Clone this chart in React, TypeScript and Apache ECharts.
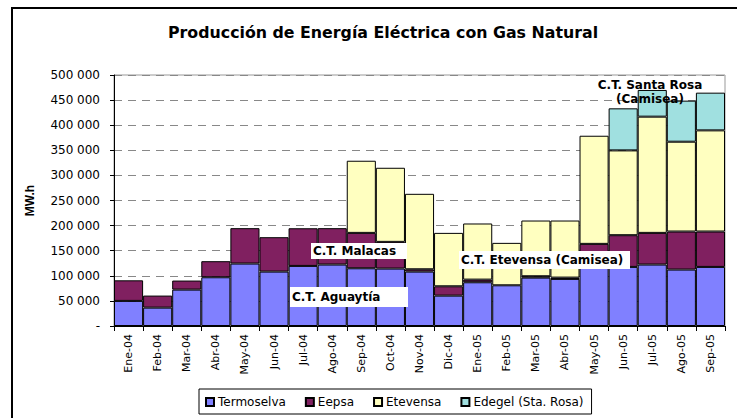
import React, { useEffect, useRef } from "react";
import * as echarts from "echarts";

const categories = [
  "Ene-04", "Feb-04", "Mar-04", "Abr-04", "May-04", "Jun-04", "Jul-04", "Ago-04", "Sep-04",
  "Oct-04", "Nov-04", "Dic-04", "Ene-05", "Feb-05", "Mar-05", "Abr-05", "May-05", "Jun-05",
  "Jul-05", "Ago-05", "Sep-05",
];
const termoselva = [50000, 36600, 72500, 97100, 124400, 108400, 119700, 122400, 115000, 114400, 108400, 60500, 87100, 81100, 96400, 93800, 117000, 117700, 122400, 112400, 117700];
const eepsa = [41000, 24000, 18000, 32000, 70500, 68500, 75000, 72500, 70500, 53200, 4600, 18600, 5300, null, 2700, 2600, 46600, 63200, 63100, 75800, 70500];
const etevensa = [null, null, null, null, null, null, null, null, 143700, 147600, 150300, 106400, 111800, 84500, 111000, 113700, 215400, 168900, 231500, 178900, 201500];
const edegel = [null, null, null, null, null, null, null, null, null, null, null, null, null, null, null, null, null, 83800, 53200, 81800, 75100];
const yTicks = [0, 50000, 100000, 150000, 200000, 250000, 300000, 350000, 400000, 450000, 500000];

const fmt = (v: number) =>
  v === 0 ? "-" : String(v).replace(/\B(?=(\d{3})+(?!\d))/g, " ");

export default function App() {
  const ref = useRef<HTMLDivElement>(null);
  useEffect(() => {
    if (!ref.current) return;
    const chart = echarts.init(ref.current, undefined, { renderer: "svg" });
    const font = "'DejaVu Sans', Verdana, sans-serif";
    const mk = (name: string, data: any[], color: string) => ({
      name,
      type: "bar",
      stack: "total",
      data,
      barCategoryGap: "0%",
      itemStyle: { color, borderColor: "#000", borderWidth: 1 },
    });
    const boxLabel = (text: string, x: number, y: number, w: number, h: number) => ({
      type: "group",
      x,
      y,
      z: 100,
      children: [
        { type: "rect", z: 100, shape: { x: 0, y: 0, width: w, height: h }, style: { fill: "#fff" } },
        {
          type: "text",
          z: 101,
          x: 2,
          y: h / 2,
          style: { text, font: `bold 12px ${font}`, fill: "#000", textVerticalAlign: "middle" },
        },
      ],
    });
    chart.setOption({
      animation: false,
      backgroundColor: "#fff",
      textStyle: { fontFamily: font },
      title: {
        text: "Producción de Energía Eléctrica con Gas Natural",
        left: 163,
        top: 19,
        textStyle: { fontSize: 15.8, fontWeight: "bold", color: "#000", fontFamily: font },
      },
      legend: {
        left: 199,
        top: 389,
        itemWidth: 8,
        itemHeight: 8,
        itemGap: 19,
        icon: "rect",
        borderColor: "#000",
        borderWidth: 1,
        padding: [7, 8, 6, 6],
        textStyle: { fontSize: 12, color: "#000", fontFamily: font, padding: [0, 0, 0, -1] },
        data: ["Termoselva", "Eepsa", "Etevensa", "Edegel (Sta. Rosa)"],
      },
      grid: { left: 114, right: 12, top: 75, bottom: 92, show: true, borderColor: "#999", borderWidth: 1 },
      xAxis: {
        type: "category",
        data: categories,
        axisLine: { lineStyle: { color: "#000" } },
        axisTick: { show: true, length: 5, lineStyle: { color: "#000" } },
        axisLabel: { rotate: 90, fontSize: 11, color: "#000", margin: 8, fontFamily: font },
      },
      yAxis: {
        type: "value",
        min: 0,
        max: 500000,
        interval: 50000,
        name: "MW.h",
        nameLocation: "middle",
        nameRotate: 90,
        nameGap: 78,
        nameTextStyle: { fontWeight: "bold", fontSize: 12, color: "#000", fontFamily: "Arial, 'Liberation Sans', sans-serif" },
        axisLine: { show: true, lineStyle: { color: "#000" } },
        axisTick: { show: true, length: 4, lineStyle: { color: "#000" } },
        axisLabel: {
          fontSize: 12,
          color: "#000",
          margin: 14,
          fontFamily: font,
          formatter: (v: number) => (yTicks.includes(v) ? fmt(v) : ""),
        },
        splitLine: { lineStyle: { color: "#888", type: [8, 6] } },
      },
      series: [
        mk("Termoselva", termoselva, "#8080FF"),
        mk("Eepsa", eepsa, "#802060"),
        mk("Etevensa", etevensa, "#FFFFC0"),
        mk("Edegel (Sta. Rosa)", edegel, "#A0E0E0"),
      ],
      graphic: [
        {
          type: "rect",
          z: 100,
          shape: { x: 12, y: 8, width: 800, height: 500 },
          style: { fill: "none", stroke: "#000", lineWidth: 2 },
          silent: true,
        },
        boxLabel("C.T. Malacas", 311, 243, 96, 16),
        boxLabel("C.T. Aguaytía", 290, 287, 118, 20),
        boxLabel("C.T. Etevensa (Camisea)", 459, 251, 171, 18),
        {
          type: "text",
          x: 650,
          y: 78,
          z: 101,
          style: {
            text: "C.T. Santa Rosa\n(Camisea)",
            font: `bold 12px ${font}`,
            fill: "#000",
            textAlign: "center",
            lineHeight: 14,
          },
        },
      ],
    });
    return () => chart.dispose();
  }, []);
  return <div ref={ref} style={{ width: 737, height: 418, position: "absolute", left: 0, top: 0 }} />;
}
